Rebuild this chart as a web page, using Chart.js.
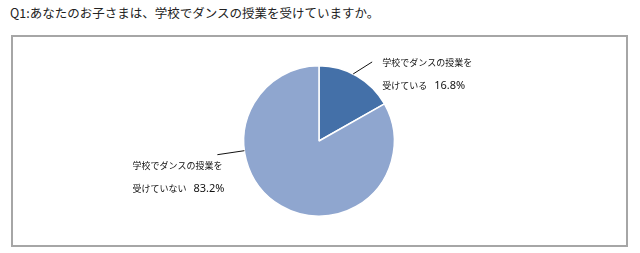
<!DOCTYPE html>
<html>
<head>
<meta charset="utf-8">
<script src="https://cdn.jsdelivr.net/npm/chart.js@4.4.0/dist/chart.umd.min.js"></script>
<style>
  body { margin: 0; background: #fff; }
  #wrap { position: relative; width: 640px; height: 253px; overflow: hidden; }
  #title {
    position: absolute; left: 10px; top: 3px;
    font: 12.5px "Noto Sans CJK JP", sans-serif; color: #222; white-space: nowrap;
  }
  #frame {
    position: absolute; left: 11px; top: 35px; width: 613px; height: 208px;
    border: 2px solid #a6a6a6;
  }
  #myChart { position: absolute; left: 0; top: 0; }
</style>
</head>
<body>
<div id="wrap">
  <div id="title">Q1:あなたのお子さまは、学校でダンスの授業を受けていますか。</div>
  <div id="frame"></div>
  <canvas id="myChart" width="640" height="253"></canvas>
</div>
<script>
// Data
const labels = ['学校でダンスの授業を受けている', '学校でダンスの授業を受けていない'];
const labelLines = [['学校でダンスの授業を', '受けている'], ['学校でダンスの授業を', '受けていない']];
const values = [16.8, 83.2];
const colors = ['#4470a8', '#8fa6cf'];

// label placement: leader start angle (deg from top, clockwise), leader end offset, text offset
const labelStyle = [
  { angle: 27, dx: 19, dy: -12, tx: 10, ty: 1 },
  { angle: 262.6, dx: -27, dy: 4, tx: -85, ty: 11 }
];

// Draw the data labels with leader lines
const pieLabels = {
  id: 'pieLabels',
  afterDatasetsDraw(chart) {
    const ctx = chart.ctx;
    const meta = chart.getDatasetMeta(0);
    ctx.save();
    ctx.fillStyle = '#111';
    ctx.strokeStyle = '#111';
    ctx.lineWidth = 1;
    ctx.textBaseline = 'middle';
    ctx.textAlign = 'left';
    meta.data.forEach((arc, i) => {
      const s = labelStyle[i];
      const a = (s.angle - 90) * Math.PI / 180;
      const x0 = arc.x + Math.cos(a) * arc.outerRadius;
      const y0 = arc.y + Math.sin(a) * arc.outerRadius;
      const x1 = x0 + s.dx, y1 = y0 + s.dy;
      ctx.beginPath();
      ctx.moveTo(x0, y0);
      ctx.lineTo(x1, y1);
      ctx.stroke();
      const tx = x1 + s.tx, ty = y1 + s.ty;
      ctx.font = '9px "Noto Sans CJK JP", sans-serif';
      ctx.fillText(labelLines[i][0], tx, ty);
      const w = ctx.measureText(labelLines[i][1]).width;
      ctx.fillText(labelLines[i][1], tx, ty + 23);
      ctx.font = '11px "Noto Sans", sans-serif';
      ctx.fillText(values[i].toFixed(1) + '%', tx + w + 7, ty + 23);
    });
    ctx.restore();
  }
};

const data = {
  labels: labels,
  datasets: [{
    data: values,
    backgroundColor: colors,
    borderColor: '#ffffff',
    borderWidth: 1.5
  }]
};

const config = {
  type: 'pie',
  data: data,
  options: {
    responsive: false,
    animation: false,
    layout: { padding: { left: 243, right: 245, top: 64, bottom: 35 } },
    plugins: {
      legend: { display: false },
      tooltip: { enabled: false }
    }
  },
  plugins: [pieLabels]
};

const ctx = document.getElementById('myChart').getContext('2d');
const myChart = new Chart(ctx, config);
</script>
</body>
</html>
